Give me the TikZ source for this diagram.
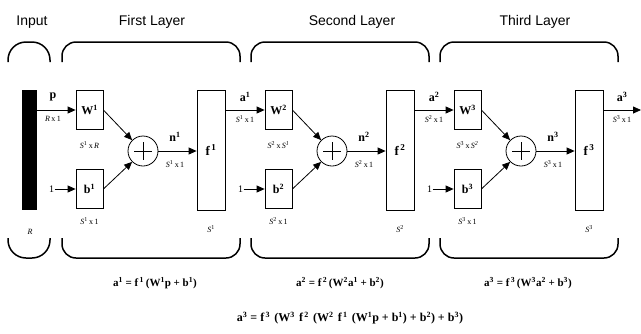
\documentclass[tikz,border=0pt]{standalone}
\usepackage{fontspec}
\setmainfont{Liberation Serif}
\setsansfont{Liberation Sans}
\usetikzlibrary{arrows.meta,calc}
\newcommand\ssp[1]{\textsuperscript{#1}}
\newcommand\gp{\hspace{0.35em}}
\begin{document}
\begin{tikzpicture}[x=1pt,y=-1pt,
  line width=0.8pt,
  wire/.style={-{Triangle[length=8pt,width=7pt]}},
  wbox/.style={draw, minimum width=27pt, minimum height=39pt, inner sep=0pt, font=\fontsize{12}{12}\selectfont\bfseries},
  fbox/.style={draw, minimum width=28pt, minimum height=120pt, inner sep=0pt, font=\fontsize{13}{13}\selectfont\bfseries},
  sumc/.style={draw, circle, minimum size=30pt, inner sep=0pt},
  dim/.style={font=\fontsize{8}{8}\selectfont, inner sep=0pt},
  lbl/.style={font=\fontsize{12}{12}\selectfont\bfseries, inner sep=0pt},
  ttl/.style={font=\sffamily\fontsize{14}{14}\selectfont, inner sep=0pt},
  brk/.style={line width=1.5pt, rounded corners=14pt},
  eqn/.style={font=\fontsize{11}{11}\selectfont\bfseries, inner sep=0pt}]
\useasboundingbox (0,0) rectangle (641,333);
% input
\node[fill=black, minimum width=15pt, minimum height=120pt, inner sep=0pt] (in) at (29.5,150) {};
\node[ttl] (tin) at (32,22) {Input};
\draw[brk, rounded corners=18pt] (8,62) -- (8,42) -- (50,42) -- (50,62);
\draw[brk, rounded corners=18pt] (8,238) -- (8,258) -- (50,258) -- (50,238);
\node[dim] (rin) at (30,232) {\textit{R}};
\node[lbl] (lp) at (53,97) {p};
\node[dim] (dp) at (53,119) {\textit{R}\,x\,1};
% titles
\node[ttl] (t1) at (152,22) {First Layer};
\node[ttl] (t2) at (352,22) {Second Layer};
\node[ttl] (t3) at (535,22) {Third Layer};
% layers
\foreach \i/\o/\prev in {1/0/R, 2/189/S\ssp{1}, 3/378/S\ssp{2}} {
  \node[wbox] (W\i) at (89.5+\o,110) {W\ssp{\i}};
  \node[wbox] (b\i) at (89.5+\o,189) {b\ssp{\i}};
  \node[sumc] (s\i) at (143+\o,151) {};
  \draw (s\i.center) +(-9,0) -- +(9,0) +(0,-9) -- +(0,9);
  \node[fbox] (f\i) at (211+\o,150) {f\ssp{\,\i}};
  \node[dim] (dw\i) at (89.5+\o,145) {\textit{S}\ssp{\i}\,x\,\textit{\prev}};
  \node[dim] (db\i) at (89.5+\o,221) {\textit{S}\ssp{\i}\,x\,1};
  \node[lbl] (ln\i) at (175+\o,137) {n\ssp{\i}};
  \node[dim] (dn\i) at (175+\o,164) {\textit{S}\ssp{\i}\,x\,1};
  \node[dim] (df\i) at (211+\o,229) {\textit{S}\ssp{\i}};
  \node[font=\fontsize{10}{10}\selectfont, inner sep=0pt] (one\i) at ($(b\i.west)+(-24,0)$) {1};
  \draw[wire] (one\i) -- (b\i.west);
  \draw[wire] (W\i.east) -- (s\i.135);
  \draw[wire] (b\i.east) -- (s\i.225);
  \draw[wire] (s\i.east) -- (s\i.east -| f\i.west);
  \draw[brk] (62+\o,62) -- (62+\o,42) -- (240+\o,42) -- (240+\o,62);
  \draw[brk] (62+\o,238) -- (62+\o,258) -- (240+\o,258) -- (240+\o,238);
}
\draw[wire] (in.east |- W1.west) -- (W1.west);
\draw[wire] (f1.east |- W2.west) -- (W2.west);
\draw[wire] (f2.east |- W3.west) -- (W3.west);
\coordinate (out) at (641,110);
\draw[wire] (f3.east |- out) -- (out);
\node[lbl] (la1) at (245,97) {a\ssp{1}};
\node[dim] (da1) at (245,119) {\textit{S}\ssp{1}\,x\,1};
\node[lbl] (la2) at (434,97) {a\ssp{2}};
\node[dim] (da2) at (434,119) {\textit{S}\ssp{2}\,x\,1};
\node[lbl] (la3) at (622,97) {a\ssp{3}};
\node[dim] (da3) at (622,119) {\textit{S}\ssp{3}\,x\,1};
% equations
\node[eqn] (e1) at (155,283) {a\ssp{1} = f\ssp{\,1}\,(W\ssp{1}p + b\ssp{1})};
\node[eqn] (e2) at (340,283) {a\ssp{2} = f\ssp{\,2}\,(W\ssp{2}a\ssp{1} + b\ssp{2})};
\node[eqn] (e3) at (528,283) {a\ssp{3} = f\ssp{\,3}\,(W\ssp{3}a\ssp{2} + b\ssp{3})};
\node[eqn, font=\fontsize{12}{12}\selectfont\bfseries] (e4) at (350,318) {a\ssp{3} = f\ssp{\,3}\gp(W\ssp{3}\gp f\ssp{\,2}\gp(W\ssp{2}\gp f\ssp{\,1}\gp(W\ssp{1}p + b\ssp{1}) + b\ssp{2}) + b\ssp{3})};
\end{tikzpicture}
\end{document}
